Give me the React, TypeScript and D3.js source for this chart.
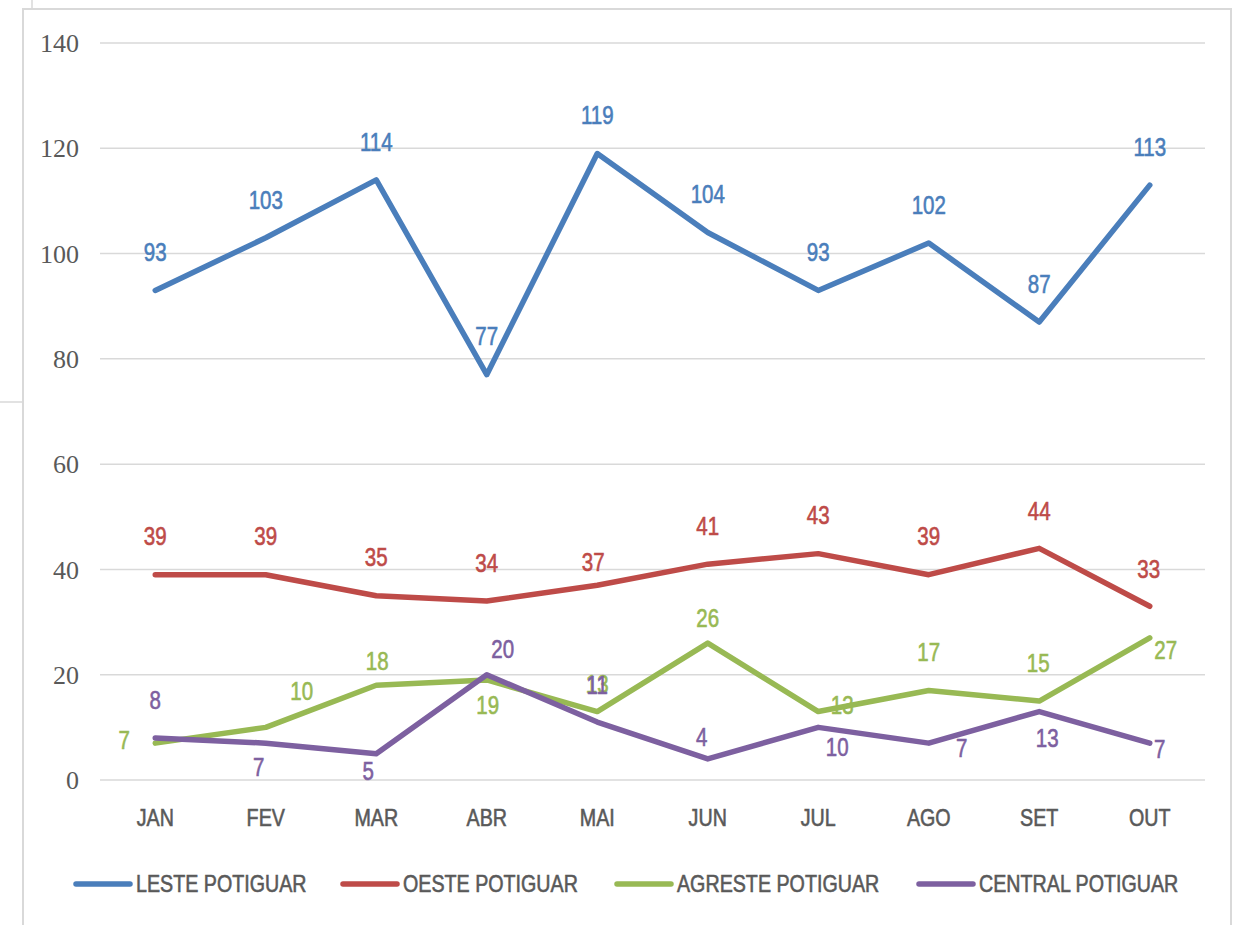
import React from 'react';
import * as d3 from 'd3';

// categories and series
const months = ['JAN', 'FEV', 'MAR', 'ABR', 'MAI', 'JUN', 'JUL', 'AGO', 'SET', 'OUT'];
const leste = [93, 103, 114, 77, 119, 104, 93, 102, 87, 113];
const oeste = [39, 39, 35, 34, 37, 41, 43, 39, 44, 33];
const agreste = [7, 10, 18, 19, 13, 26, 13, 17, 15, 27];
const central = [8, 7, 5, 20, 11, 4, 10, 7, 13, 7];
const seriesNames = ['LESTE POTIGUAR', 'OESTE POTIGUAR', 'AGRESTE POTIGUAR', 'CENTRAL POTIGUAR'];
const yTicks = [0, 20, 40, 60, 80, 100, 120, 140];

// label nudges (dx, dy) from each point, as placed in the original
const lesteLabelPos = months.map(() => [0, -38]);
const oesteLabelPos = [[0, -38], [0, -38], [0, -39], [0, -38], [-4, -23], [0, -38], [0, -38], [0, -38], [0, -37], [-1, -37]];
const agresteLabelPos = [[-31, -3], [36, -36], [1, -24], [1, 25], [0, -27], [0, -25], [24, -6], [0, -38], [-1, -38], [16, 12]];
const centralLabelPos = [[0, -38], [-7, 24], [-8, 18], [16, -25], [0, -37], [-6, -22], [19, 20], [33, 5], [8, 27], [10, 6]];

const colors = ['#4A7EBB', '#BE4B48', '#98B954', '#7D60A0'];
const sans = "'Liberation Sans', Arial, sans-serif";
const serif = "'Liberation Serif', 'DejaVu Serif', serif";
const squeeze = 0.82; // narrow look of the original's Calibri

// text squeezed horizontally around its anchor, slightly thickened
function Narrow({ x, y, anchor = 'middle', size, fill, children }: any) {
  return (
    <g transform={`translate(${x},${y}) scale(${squeeze},1)`}>
      <text x={0} y={0} dy="0.35em" textAnchor={anchor} fontFamily={sans} fontSize={size} fill={fill}
        stroke={fill} strokeWidth={0.6}>{children}</text>
    </g>
  );
}

export default function App() {
  const width = 1238;
  const height = 925;
  const left = 100, right = 1205, top = 43, bottom = 780;

  const x = d3.scaleBand().domain(months).range([left, right]).padding(0);
  const y = d3.scaleLinear().domain([0, 140]).range([bottom, top]);
  const cx = (m: string) => (x(m) as number) + x.bandwidth() / 2;

  const line = d3.line<number>()
    .x((_, i) => cx(months[i]))
    .y(d => y(d));

  const series = [
    { name: seriesNames[0], values: leste, pos: lesteLabelPos, color: colors[0] },
    { name: seriesNames[1], values: oeste, pos: oesteLabelPos, color: colors[1] },
    { name: seriesNames[2], values: agreste, pos: agresteLabelPos, color: colors[2] },
    { name: seriesNames[3], values: central, pos: centralLabelPos, color: colors[3] },
  ];

  const legendX = [76, 343, 617, 919];

  return (
    <svg width={width} height={height} style={{ position: 'absolute', left: 0, top: 0, background: '#fff' }}>
      {/* chart frame and stray edges from the screenshot */}
      <rect x={23} y={9} width={1208} height={940} fill="#fff" stroke="#d9d9d9" strokeWidth={2} />
      <line x1={32} y1={0} x2={32} y2={8} stroke="#d9d9d9" strokeWidth={1.5} />
      <line x1={0} y1={402} x2={23} y2={402} stroke="#d9d9d9" strokeWidth={1.5} />

      {/* gridlines + y labels */}
      {yTicks.map(t => (
        <g key={t}>
          <line x1={left} x2={right} y1={y(t)} y2={y(t)} stroke="#d9d9d9" strokeWidth={1.5} />
          <text x={79} y={y(t)} dy="0.35em" textAnchor="end" fontFamily={serif} fontSize={26} fill="#595959">{t}</text>
        </g>
      ))}

      {/* category labels */}
      {months.map(m => (
        <Narrow key={m} x={cx(m)} y={818} size={24} fill="#595959">{m}</Narrow>
      ))}

      {/* lines */}
      {series.map(s => (
        <path key={s.name} d={line(s.values) as string} fill="none" stroke={s.color} strokeWidth={5.5}
          strokeLinejoin="round" strokeLinecap="round" />
      ))}

      {/* data labels */}
      {series.map(s => (
        <g key={s.name + '-lbl'}>
          {s.values.map((v, i) => (
            <Narrow key={i} x={cx(months[i]) + s.pos[i][0]} y={y(v) + s.pos[i][1]} size={25} fill={s.color}>{v}</Narrow>
          ))}
        </g>
      ))}

      {/* legend */}
      {series.map((s, i) => (
        <g key={s.name + '-leg'}>
          <line x1={legendX[i]} x2={legendX[i] + 54} y1={884} y2={884} stroke={s.color} strokeWidth={5.5} strokeLinecap="round" />
          <Narrow x={legendX[i] + 60} y={884} anchor="start" size={24} fill="#595959">{s.name}</Narrow>
        </g>
      ))}
    </svg>
  );
}
